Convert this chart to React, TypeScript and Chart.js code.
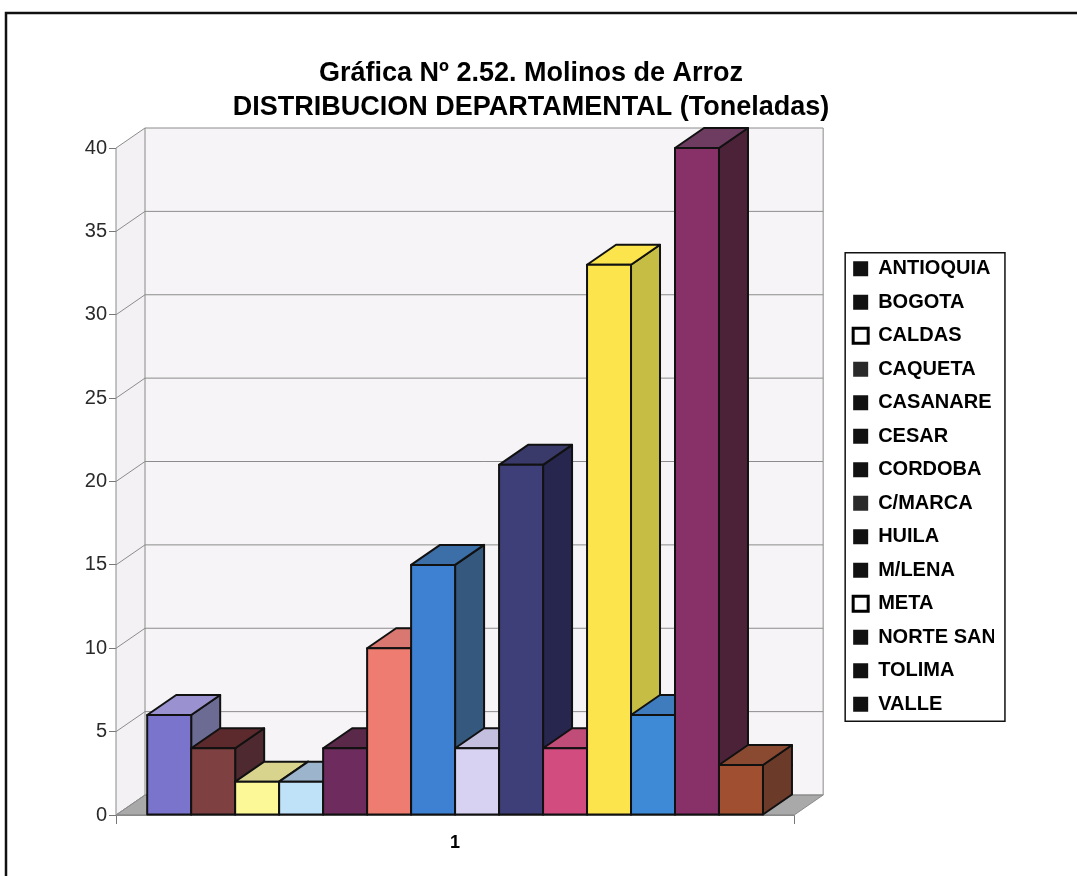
import React, { useEffect, useRef } from 'react';
import { Chart, registerables } from 'chart.js';

Chart.register(...registerables);

// ---- data -------------------------------------------------------------
const categories = ['1'];
const departments = [
  'ANTIOQUIA', 'BOGOTA', 'CALDAS', 'CAQUETA', 'CASANARE', 'CESAR', 'CORDOBA',
  'C/MARCA', 'HUILA', 'M/LENA', 'META', 'NORTE SAN', 'TOLIMA', 'VALLE',
];
const tonnes = [6, 4, 2, 2, 4, 10, 15, 4, 21, 4, 33, 6, 40, 3];
const yMin = 0;
const yMax = 40;
const yStep = 5;
const titleLines = ['Gráfica Nº 2.52. Molinos de Arroz', 'DISTRIBUCION DEPARTAMENTAL (Toneladas)'];

// ---- styles -----------------------------------------------------------
const frontColors = [
  '#7a74cc', '#7e4040', '#fcf898', '#c0e2f8', '#6e2c5e', '#ee7c70', '#3e80d2',
  '#d8d2f2', '#3e3e78', '#d24c80', '#fce44c', '#3e8ad6', '#883068', '#a05030',
];
const topColors = [
  '#9a92d0', '#5c2a2c', '#d8d48e', '#9cb4cc', '#5a2848', '#d87870', '#3c6ea8',
  '#c4bedf', '#3a3a6a', '#c04c78', '#fce44c', '#3e7cbe', '#6e3c60', '#8a4a32',
];
const sideColors = [
  '#6b6b94', '#4e2a30', '#b0ae80', '#8aa0b8', '#4a2040', '#b86058', '#34587e',
  '#a8a2c4', '#26264e', '#a03e64', '#c6be44', '#30609a', '#4c2238', '#6c3a28',
];
// legend swatches are printed in black; the pale series show as outlined squares
const legendFill = [
  '#111', '#111', '#fff', '#2a2a2a', '#111', '#111', '#111',
  '#2a2a2a', '#111', '#111', '#fff', '#111', '#111', '#111',
];
const legendLine = [0, 0, 3, 0, 0, 0, 0, 0, 0, 0, 3, 0, 0, 0];

const FONT = "'Liberation Sans', Arial, Helvetica, sans-serif";
const DEPTH_X = 29; // horizontal offset of the 3D depth
const DEPTH_Y = -20; // vertical offset of the 3D depth

type Pt = [number, number];

function poly(ctx: CanvasRenderingContext2D, pts: Pt[], fill: string | null, stroke: string | null, lw = 1) {
  ctx.beginPath();
  ctx.moveTo(pts[0][0], pts[0][1]);
  for (let i = 1; i < pts.length; i++) ctx.lineTo(pts[i][0], pts[i][1]);
  ctx.closePath();
  if (fill) {
    ctx.fillStyle = fill;
    ctx.fill();
  }
  if (stroke) {
    ctx.strokeStyle = stroke;
    ctx.lineWidth = lw;
    ctx.stroke();
  }
}

const box3d = {
  id: 'box3d',
  beforeDraw(chart: any) {
    const { ctx, width, height } = chart;
    ctx.save();
    ctx.fillStyle = '#ffffff';
    ctx.fillRect(0, 0, width, height);
    // page frame
    ctx.strokeStyle = '#111';
    ctx.lineWidth = 2.5;
    ctx.beginPath();
    ctx.moveTo(6, height);
    ctx.lineTo(6, 13);
    ctx.lineTo(width, 13);
    ctx.stroke();
    ctx.restore();
  },
  beforeDatasetsDraw(chart: any) {
    const { ctx, chartArea: a, scales } = chart;
    const ys = scales.y;
    const L = a.left;
    const R = a.right;
    const T = ys.getPixelForValue(yMax);
    const B = ys.getPixelForValue(yMin);
    ctx.save();
    // left side wall and back wall
    poly(ctx, [[L, B], [L, T], [L + DEPTH_X, T + DEPTH_Y], [L + DEPTH_X, B + DEPTH_Y]], '#f3f1f4', null);
    poly(ctx, [[L + DEPTH_X, T + DEPTH_Y], [R + DEPTH_X, T + DEPTH_Y], [R + DEPTH_X, B + DEPTH_Y], [L + DEPTH_X, B + DEPTH_Y]], '#f6f4f6', null);
    // floor
    poly(ctx, [[L, B], [R, B], [R + DEPTH_X, B + DEPTH_Y], [L + DEPTH_X, B + DEPTH_Y]], '#a9a9a9', '#8a8a8a', 1);
    // gridlines running along side wall and back wall
    ctx.strokeStyle = '#8c8c8c';
    ctx.lineWidth = 1;
    ys.ticks.forEach((t: any) => {
      const py = ys.getPixelForValue(t.value);
      ctx.beginPath();
      ctx.moveTo(L, py);
      ctx.lineTo(L + DEPTH_X, py + DEPTH_Y);
      ctx.lineTo(R + DEPTH_X, py + DEPTH_Y);
      ctx.stroke();
    });
    // wall edges and axis line
    ctx.strokeStyle = '#8a8a8a';
    ctx.beginPath();
    ctx.moveTo(L + DEPTH_X, T + DEPTH_Y);
    ctx.lineTo(L + DEPTH_X, B + DEPTH_Y);
    ctx.moveTo(R + DEPTH_X, T + DEPTH_Y);
    ctx.lineTo(R + DEPTH_X, B + DEPTH_Y);
    ctx.moveTo(L, T);
    ctx.lineTo(L, B);
    ctx.lineTo(R, B);
    ctx.stroke();
    ctx.restore();
  },
  beforeDatasetDraw() {
    return false;
  },
  afterDatasetsDraw(chart: any) {
    const { ctx } = chart;
    ctx.save();
    ctx.lineJoin = 'round';
    chart.data.datasets.forEach((_ds: any, i: number) => {
      const meta = chart.getDatasetMeta(i);
      meta.data.forEach((bar: any) => {
        const { x, y, base, width } = bar.getProps(['x', 'y', 'base', 'width'], true);
        const l = x - width / 2;
        const r = x + width / 2;
        poly(ctx, [[r, y], [r + DEPTH_X, y + DEPTH_Y], [r + DEPTH_X, base + DEPTH_Y], [r, base]], sideColors[i], '#111', 2);
        poly(ctx, [[l, y], [l + DEPTH_X, y + DEPTH_Y], [r + DEPTH_X, y + DEPTH_Y], [r, y]], topColors[i], '#111', 2);
        poly(ctx, [[l, y], [r, y], [r, base], [l, base]], frontColors[i], '#111', 2);
      });
    });
    ctx.restore();
  },
  afterDraw(chart: any) {
    const lg = chart.legend;
    const hb = lg && lg.legendHitBoxes;
    if (!hb || !hb.length) return;
    const { ctx } = chart;
    const left = Math.min(...hb.map((h: any) => h.left)) - 8;
    const right = Math.max(...hb.map((h: any) => h.left + h.width)) + 9;
    const top = hb[0].top - 6;
    const last = hb[hb.length - 1];
    const bottom = last.top + last.height + 7;
    ctx.save();
    ctx.strokeStyle = '#111';
    ctx.lineWidth = 1.5;
    ctx.strokeRect(left, top, right - left, bottom - top);
    ctx.restore();
  },
};

export default function App() {
  const canvasRef = useRef<HTMLCanvasElement | null>(null);

  useEffect(() => {
    const canvas = canvasRef.current;
    if (!canvas) return;
    const chart = new Chart(canvas, {
      type: 'bar',
      data: {
        labels: categories,
        datasets: departments.map((name, i) => ({
          label: name,
          data: [tonnes[i]],
          backgroundColor: frontColors[i],
          borderColor: '#111',
          borderWidth: 2,
          yAxisID: 'y',
          categoryPercentage: 0.908,
          barPercentage: 1,
        })),
      },
      options: {
        responsive: false,
        animation: false,
        devicePixelRatio: 1,
        events: [],
        layout: { padding: { left: 68, right: 83, top: 0, bottom: 21 } },
        plugins: {
          title: {
            display: true,
            text: titleLines,
            color: '#000',
            font: { family: FONT, size: 27, weight: 'bold', lineHeight: 1.25 },
            padding: { top: 57, bottom: 23.5 },
          },
          legend: {
            display: true,
            position: 'right',
            fullSize: false,
            title: { display: true, text: '', color: '#000', padding: 0, font: { family: FONT, size: 10, lineHeight: 1 } },
            labels: {
              boxWidth: 15,
              boxHeight: 15,
              padding: 13.5,
              color: '#000',
              font: { family: FONT, size: 20, weight: 'bold' },
              generateLabels: (c: any) =>
                c.data.datasets.map((ds: any, i: number) => ({
                  text: ds.label,
                  fillStyle: legendFill[i],
                  strokeStyle: '#000',
                  fontColor: '#000',
                  lineWidth: legendLine[i],
                  hidden: false,
                  datasetIndex: i,
                })),
            },
          },
          tooltip: { enabled: false },
        },
        scales: {
          x: {
            type: 'category',
            offset: true,
            grid: { display: true, drawOnChartArea: false, drawTicks: true, tickLength: 9, color: '#777', offset: true },
            border: { display: true, color: '#888' },
            ticks: { color: '#000', padding: 8, font: { family: FONT, size: 18, weight: 'bold' } },
            afterFit: (s: any) => {
              s.height = 40;
            },
          },
          y: {
            type: 'linear',
            position: 'left',
            min: yMin,
            max: yMax,
            ticks: { stepSize: yStep, color: '#2a2a2a', padding: 2, font: { family: FONT, size: 20 } },
            grid: { display: true, drawOnChartArea: false, drawTicks: true, tickLength: 7, color: '#777' },
            border: { display: true, color: '#888' },
            afterFit: (s: any) => {
              s.width = 48;
            },
          },
          gap: {
            type: 'linear',
            position: 'right',
            display: true,
            grid: { display: false },
            border: { display: false },
            ticks: { display: false },
            afterFit: (s: any) => {
              s.width = 45.5;
            },
          },
        },
      } as any,
      plugins: [box3d],
    });
    return () => chart.destroy();
  }, []);

  return (
    <div style={{ position: 'absolute', left: 0, top: 0, width: 1077, height: 876, background: '#fff' }}>
      <canvas ref={canvasRef} width={1077} height={876} style={{ display: 'block' }} />
    </div>
  );
}
